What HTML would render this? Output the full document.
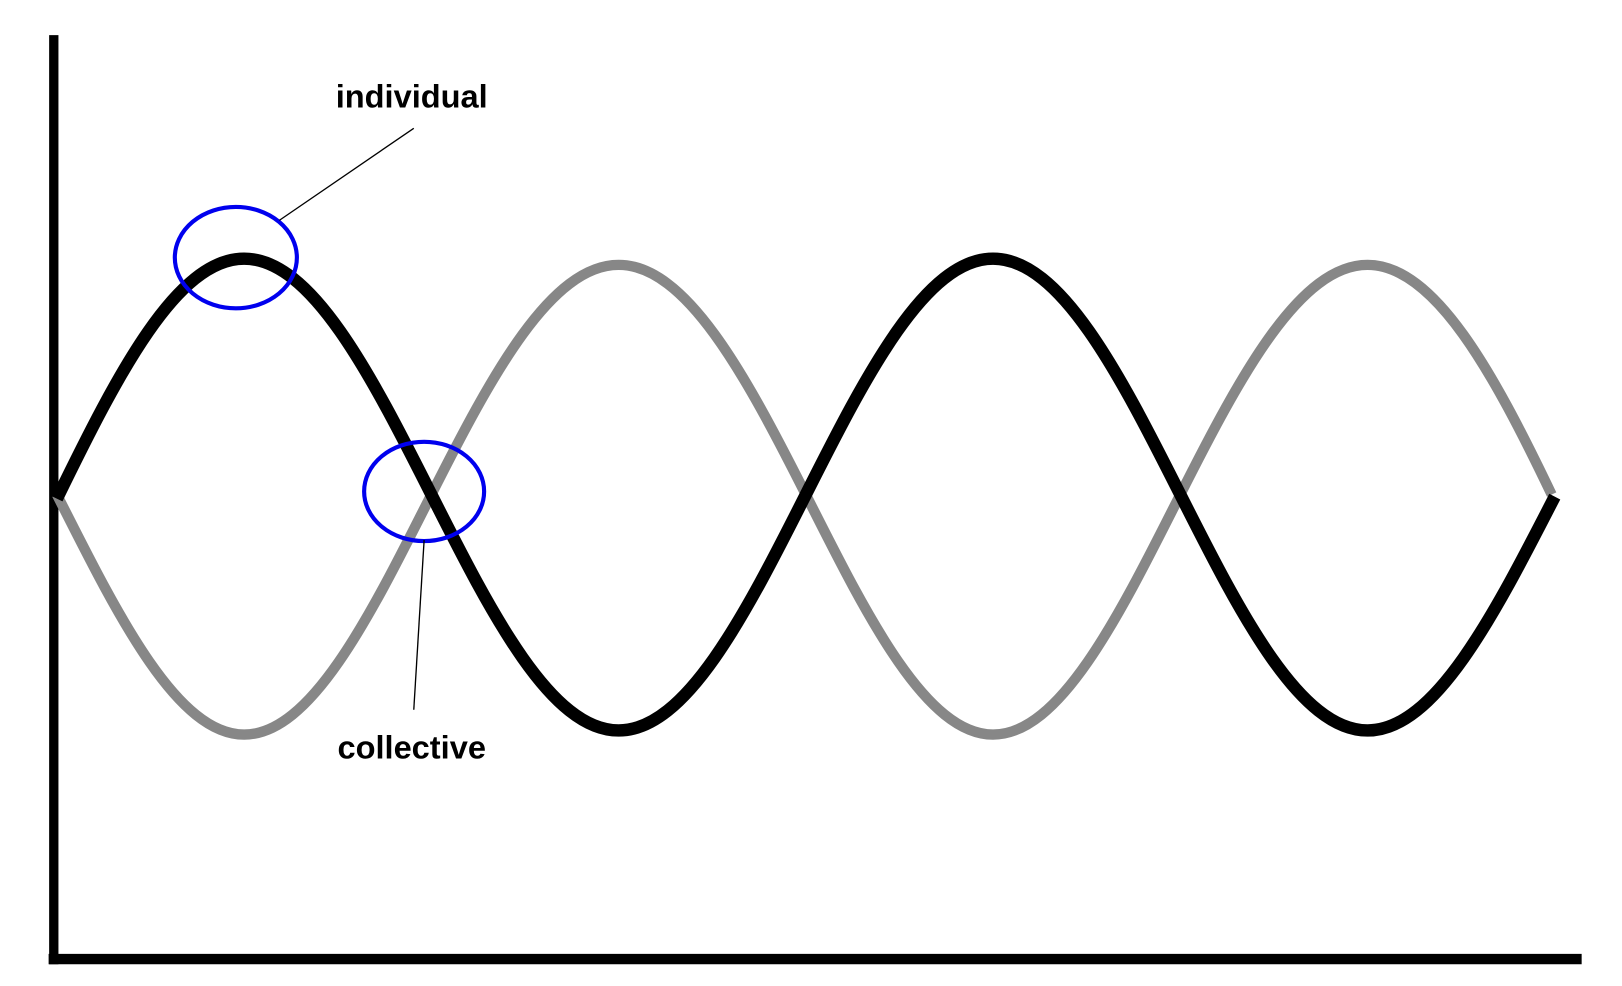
<!DOCTYPE html>
<html><head><meta charset="utf-8"><style>html,body{margin:0;padding:0;background:#fff}svg{display:block}</style></head>
<body>
<svg width="1622" height="986" viewBox="0 0 1568 953" preserveAspectRatio="none" xmlns="http://www.w3.org/2000/svg">
<rect width="1568" height="953" fill="#fff"/>
<line x1="52" y1="34" x2="52" y2="932" stroke="#000" stroke-width="9"/>
<line x1="47" y1="927" x2="1529" y2="927" stroke="#000" stroke-width="10"/>
<path d="M55,478 C114,595 171,710 236,710 C301,710 358,595 417,478 C476,361 533,256 598,256 C663,256 720,361 779,478 C838,595 895,710 960,710 C1025,710 1082,595 1141,478 C1200,361 1257,256 1322,256 C1387,256 1444,361 1500,478" fill="none" stroke="#878787" stroke-width="10"/>
<path d="M55,482 C114,361 171,250 236,250 C301,250 358,361 417,478 C476,595 533,706 598,706 C663,706 720,595 779,478 C838,361 895,250 960,250 C1025,250 1082,361 1141,478 C1200,595 1257,706 1322,706 C1387,706 1444,595 1503,480" fill="none" stroke="#000" stroke-width="12"/>
<ellipse cx="228" cy="249" rx="59" ry="49" fill="none" stroke="#0000ee" stroke-width="4"/>
<ellipse cx="410" cy="475" rx="58" ry="48" fill="none" stroke="#0000ee" stroke-width="4"/>
<line x1="270" y1="213" x2="400" y2="124" stroke="#000" stroke-width="1.3"/>
<line x1="410" y1="522" x2="400" y2="686" stroke="#000" stroke-width="1.3"/>
<text x="398" y="104" text-anchor="middle" font-family="Liberation Sans, sans-serif" font-weight="bold" font-size="31.5">individual</text>
<text x="398" y="733" text-anchor="middle" font-family="Liberation Sans, sans-serif" font-weight="bold" font-size="31.5">collective</text>
</svg>
</body></html>
